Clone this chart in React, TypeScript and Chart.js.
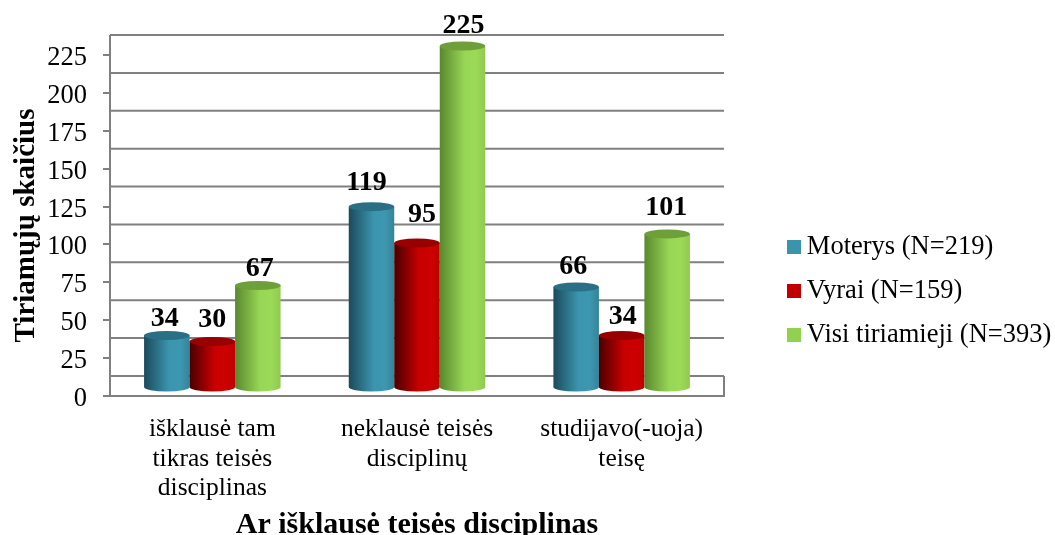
import React, { useEffect, useRef } from "react";
import { Chart, registerables } from "chart.js";

Chart.register(...registerables);

const categories = [
  ["išklausė tam", "tikras teisės", "disciplinas"],
  ["neklausė teisės", "disciplinų"],
  ["studijavo(-uoja)", "teisę"],
];
const moterys = [34, 119, 66];
const vyrai = [30, 95, 34];
const visi = [67, 225, 101];
const seriesNames = ["Moterys (N=219)", "Vyrai (N=159)", "Visi tiriamieji (N=393)"];
const yAxisTitle = "Tiriamųjų skaičius";
const xAxisTitle = "Ar išklausė teisės disciplinas";

const SERIF = "'Liberation Serif', 'Times New Roman', serif";
const GRID = "#808080";
const swatchColors = ["#3a94ac", "#c00000", "#92d050"];
const capColors = ["#2a6f85", "#990000", "#6e9f38"];
const gradients = [
  ["#1b4a5b", "#3b95ae", "#3d97b0", "#348499"],
  ["#4a0000", "#c80000", "#cc0000", "#c00000"],
  ["#5a882e", "#98d656", "#9bd957", "#90ca50"],
];
// Pseudo-3D depth: back wall and bar floor lift above the front axis plane
const WALL_LIFT = 20;
const BAR_LIFT = 9;
const AREA_TOP = 55;
const AREA_BOTTOM = 396;
const AREA_LEFT = 110;
const AREA_RIGHT = 724;
const Y_MAX = 225;
const CAP_RY = 4.5;
const LEGEND_SHIFT_X = 52;
const LEGEND_SHIFT_Y = -4;
const Y_TICK_SHIFT = 3;
const liftUnits = (BAR_LIFT * Y_MAX) / (AREA_BOTTOM - AREA_TOP);

// small per-label nudges [dx, dy] relative to the top of each bar
const labelNudges = [
  [[-2, -17], [-5, -24], [-3, -20]],
  [[0, -22], [5, -28], [1, -19]],
  [[2, -17], [1, -20], [-1, -26]],
];

function makeSwatch(color: string) {
  const c = document.createElement("canvas");
  c.width = 14;
  c.height = 14;
  const g = c.getContext("2d")!;
  g.fillStyle = color;
  g.fillRect(0, 0, 14, 14);
  return c;
}

const pseudo3d = {
  id: "pseudo3d",
  beforeLayout(chart: any) {
    const legend = chart.legend;
    if (!legend || legend.__wrapped) return;
    legend.__wrapped = true;
    const fit = legend.fit;
    legend.fit = function () {
      fit.call(this);
      this.width = chart.width - AREA_RIGHT;
      this.minSize && (this.minSize.width = this.width);
    };
    const draw = legend.draw;
    legend.draw = function () {
      const ctx = this.ctx;
      ctx.save();
      ctx.translate(LEGEND_SHIFT_X, LEGEND_SHIFT_Y);
      draw.call(this);
      ctx.restore();
    };
  },
  beforeDraw(chart: any) {
    const y = chart.scales.y;
    if (y.__wrapped) return;
    y.__wrapped = true;
    const drawLabels = y.drawLabels;
    y.drawLabels = function (area: any) {
      const ctx = this.ctx;
      ctx.save();
      ctx.translate(0, Y_TICK_SHIFT);
      drawLabels.call(this, area);
      ctx.restore();
    };
  },
  beforeDatasetsDraw(chart: any) {
    const { ctx, scales } = chart;
    const y = scales.y;
    const x = scales.x;
    ctx.save();
    ctx.strokeStyle = GRID;
    ctx.lineWidth = 2;
    // back wall lines, one for each tick of the axis
    y.ticks.forEach((t: any) => {
      const py = y.getPixelForValue(t.value) - WALL_LIFT;
      ctx.beginPath();
      ctx.moveTo(x.left, py);
      ctx.lineTo(x.right, py);
      ctx.stroke();
    });
    const topY = y.getPixelForValue(Y_MAX) - WALL_LIFT;
    const zeroY = y.getPixelForValue(0);
    ctx.beginPath();
    ctx.moveTo(x.left, zeroY);
    ctx.lineTo(x.left, topY);
    ctx.stroke();
    ctx.beginPath();
    ctx.moveTo(x.right, zeroY);
    ctx.lineTo(x.right, zeroY - WALL_LIFT);
    ctx.stroke();
    // cylinders
    chart.data.datasets.forEach((_: any, di: number) => {
      chart.getDatasetMeta(di).data.forEach((el: any) => {
        const w = el.width;
        const l = el.x - w / 2;
        const r = el.x + w / 2;
        const g = ctx.createLinearGradient(l, 0, r, 0);
        const stops = gradients[di];
        g.addColorStop(0, stops[0]);
        g.addColorStop(0.55, stops[1]);
        g.addColorStop(0.8, stops[2]);
        g.addColorStop(1, stops[3]);
        ctx.fillStyle = g;
        ctx.beginPath();
        ctx.moveTo(l, el.y);
        ctx.lineTo(l, el.base);
        ctx.ellipse(el.x, el.base, w / 2, CAP_RY, 0, Math.PI, 0, true);
        ctx.lineTo(r, el.y);
        ctx.closePath();
        ctx.fill();
        ctx.fillStyle = capColors[di];
        ctx.beginPath();
        ctx.ellipse(el.x, el.y, w / 2, CAP_RY, 0, 0, Math.PI * 2);
        ctx.fill();
      });
    });
    ctx.restore();
    return false;
  },
  afterDraw(chart: any) {
    const { ctx } = chart;
    ctx.save();
    ctx.fillStyle = "#000";
    ctx.font = `bold 28px ${SERIF}`;
    ctx.textAlign = "center";
    ctx.textBaseline = "middle";
    chart.data.datasets.forEach((ds: any, di: number) => {
      chart.getDatasetMeta(di).data.forEach((el: any, i: number) => {
        const [dx, dy] = labelNudges[di][i];
        ctx.fillText(String(ds.data[i]), el.x + dx, el.y + dy);
      });
    });
    ctx.restore();
  },
};

export default function App() {
  const ref = useRef<HTMLCanvasElement>(null);
  useEffect(() => {
    const swatches = swatchColors.map(makeSwatch);
    const chart = new Chart(ref.current!, {
      type: "bar",
      data: {
        labels: categories,
        datasets: [moterys, vyrai, visi].map((d, i) => ({
          label: seriesNames[i],
          data: d,
          yAxisID: "y1",
          backgroundColor: swatchColors[i],
          categoryPercentage: 0.667,
          barPercentage: 1,
        })),
      },
      options: {
        responsive: false,
        animation: false,
        layout: { padding: { top: AREA_TOP, left: 0, right: 0, bottom: 0 } },
        plugins: {
          tooltip: { enabled: false },
          legend: {
            position: "right",
            align: "center",
            labels: {
              color: "#000",
              font: { family: SERIF, size: 26.5 },
              usePointStyle: true,
              pointStyleWidth: 0.1,
              boxHeight: 14,
              padding: 17.5,
              generateLabels: (c: any) =>
                Chart.defaults.plugins.legend.labels
                  .generateLabels(c)
                  .map((it: any, i: number) => ({ ...it, pointStyle: swatches[i] })),
            },
          },
        },
        scales: {
          x: {
            afterFit: (s: any) => {
              s.height = 535 - AREA_BOTTOM;
            },
            grid: { display: false, drawTicks: false },
            border: { display: true, color: GRID, width: 2 },
            ticks: {
              color: "#000",
              font: { family: SERIF, size: 25.5, lineHeight: 1.157 },
              maxRotation: 0,
              minRotation: 0,
              autoSkip: false,
              padding: 19,
            },
            title: {
              display: true,
              text: xAxisTitle,
              color: "#000",
              font: { family: SERIF, size: 30, weight: "bold", lineHeight: 1 },
              padding: { top: 0, bottom: -5 },
            },
          },
          y: {
            position: "left",
            min: 0,
            max: Y_MAX,
            afterFit: (s: any) => {
              s.width = AREA_LEFT;
            },
            grid: { drawOnChartArea: false, drawTicks: true, tickLength: 7, color: GRID, lineWidth: 2 },
            border: { display: true, color: GRID, width: 2 },
            ticks: {
              stepSize: 25,
              color: "#000",
              font: { family: SERIF, size: 26.5 },
              padding: 16,
            },
            title: {
              display: true,
              text: yAxisTitle,
              color: "#000",
              font: { family: SERIF, size: 29, weight: "bold", lineHeight: 1 },
              padding: { top: 12, bottom: 0 },
            },
          },
          y1: {
            display: false,
            position: "left",
            min: -liftUnits,
            max: Y_MAX - liftUnits,
          },
        },
      },
      plugins: [pseudo3d],
    } as any);
    return () => chart.destroy();
  }, []);
  return (
    <div style={{ position: "absolute", left: 0, top: 0, width: 1055, height: 535, background: "#fff" }}>
      <canvas ref={ref} width={1055} height={535} style={{ display: "block" }} />
    </div>
  );
}
